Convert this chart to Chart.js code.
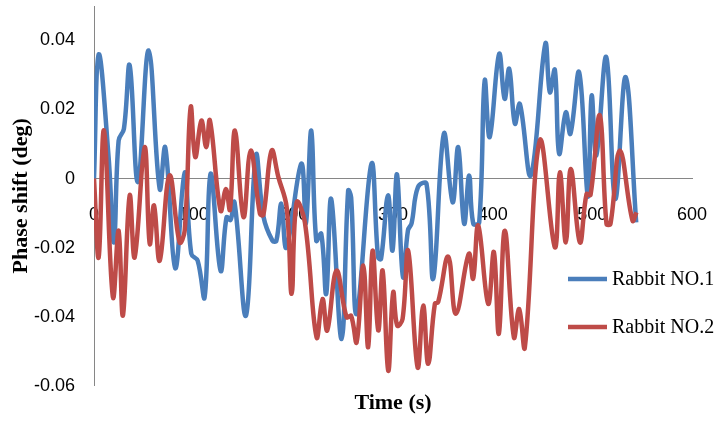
<!DOCTYPE html>
<html>
<head>
<meta charset="utf-8">
<script src="https://cdn.jsdelivr.net/npm/chart.js@4"></script>
<style>
    html, body { margin: 0; padding: 0; background: #fff; }
    #wrap { width: 719px; height: 422px; position: relative; }
</style>
</head>
<body>
<div id="wrap"><canvas id="phaseChart"></canvas></div>
<script>
// Rabbit NO.1 (time in s, phase shift in deg)
const rabbit1Time = [0, 4.7, 14.7, 20, 24.7, 30, 35.8, 44, 54.8, 65.9, 71.5, 81.5, 91, 97.6, 104, 111,
    117, 127, 133, 137, 141, 152.5, 162.5, 170, 179, 183, 188, 193, 208, 212.6, 218, 223, 228, 233, 238,
    248.4, 255, 258, 263.5, 278.4, 285, 288, 295, 299.5, 304, 310, 315, 318.6, 325, 333.6, 340.4, 351,
    359.8, 365.4, 371.4, 376.4, 380.5, 386.5, 392, 397, 406.5, 412, 416.6, 422.3, 427.3, 438.3, 452.8,
    457.4, 462.4, 466.7, 473.4, 478, 486.8, 495.5, 499.3, 504, 514, 523, 533.4, 544];
const rabbit1Shift = [0, 0.036, 0.006, -0.0185, 0.011, 0.0144, 0.0328, -0.001, 0.0371, -0.003, 0.009, -0.026,
    0.0018, -0.0218, -0.0238, -0.0344, 0.0014, -0.0267, -0.0112, -0.012, -0.0069, -0.0397, 0.0067, -0.011,
    -0.018, -0.018, -0.0073, -0.02, 0.0043, -0.013, 0.0139, -0.018, -0.016, -0.0334, -0.0059, -0.0465,
    -0.0035, -0.0055, -0.0392, 0.0043, -0.0228, -0.0233, -0.0049, -0.0209, 0.0012, -0.0285, -0.015, -0.013,
    -0.0025, -0.0015, -0.029, 0.013, -0.0069, 0.0091, -0.0131, 0.0009, -0.013, -0.0127, 0.0284, 0.012,
    0.0361, 0.0231, 0.0318, 0.0159, 0.0216, 0.0009, 0.039, 0.025, 0.0315, 0.0072, 0.0192, 0.013, 0.0308,
    -0.0052, 0.024, 0.0067, 0.0352, -0.0059, 0.0294, -0.0127];

// Rabbit NO.2
const rabbit2Time = [0, 4.7, 10, 19, 24.7, 29, 35.8, 40.8, 50.8, 55.9, 60.2, 65.9, 75.8, 85.9, 91, 97,
    101.6, 107.7, 112.6, 116.3, 127, 132.4, 136.4, 141.4, 150, 157.2, 166.5, 170, 178.2, 185, 193.3, 198.3,
    203.3, 211.6, 223.3, 229.3, 234, 243.3, 253.4, 258, 263.5, 270.2, 275.1, 279.5, 285.2, 289.6, 295.2,
    300.2, 304.2, 309.6, 315.2, 324.7, 330.3, 335.3, 342, 345.3, 355.4, 363.1, 376.1, 380.4, 385.5, 395.5,
    401.2, 406.2, 412.2, 421.3, 426.6, 432.3, 447.3, 462.4, 467.4, 473.4, 478.4, 487.5, 494.2, 498.2,
    507.5, 514.2, 518.2, 527.6, 540.3, 544.3];
const rabbit2Shift = [0, -0.0228, 0.0139, -0.0344, -0.0151, -0.0397, -0.0049, -0.0228, 0.0091, -0.0189,
    -0.0078, -0.0238, 0.0009, -0.0185, -0.0151, 0.0207, 0.0062, 0.0168, 0.0091, 0.0168, -0.0093, -0.003,
    -0.009, 0.0139, -0.0112, 0.0081, -0.0102, -0.0105, 0.0081, 0.0004, -0.0083, -0.0334, -0.0069, -0.0127,
    -0.046, -0.0349, -0.044, -0.0267, -0.0402, -0.0398, -0.0474, -0.0252, -0.0489, -0.0209, -0.044, -0.0267,
    -0.0557, -0.033, -0.0426, -0.0407, -0.0209, -0.0547, -0.0368, -0.0537, -0.0363, -0.0358, -0.0226,
    -0.0392, -0.0218, -0.029, -0.0136, -0.0363, -0.0213, -0.045, -0.0151, -0.046, -0.0378, -0.0489, 0.011,
    -0.0199, 0.0018, -0.0185, 0.0028, -0.0185, -0.0045, -0.0047, 0.0183, -0.0131, -0.0131, 0.0081, -0.0122,
    -0.0098];

const yTicks = [-0.06, -0.04, -0.02, 0, 0.02, 0.04];
const xTicks = [0, 100, 200, 300, 400, 500, 600];
const seriesNames = ['Rabbit NO.1', 'Rabbit NO.2'];
const seriesColors = ['#4a7ebb', '#be4b48'];

const toPoints = (xs, ys) => xs.map((x, i) => ({ x, y: ys[i] }));

// legend sits inside the plot on the right, like the original
const sideLegend = {
    id: 'sideLegend',
    afterDraw(chart) {
        const ctx = chart.ctx;
        ctx.save();
        ctx.font = '20px "Liberation Serif", "Times New Roman", serif';
        ctx.textBaseline = 'middle';
        seriesNames.forEach((name, i) => {
            const y = 279 + i * 48;
            ctx.strokeStyle = seriesColors[i];
            ctx.lineWidth = 4.5;
            ctx.beginPath();
            ctx.moveTo(568, y);
            ctx.lineTo(607, y);
            ctx.stroke();
            ctx.fillStyle = '#000';
            ctx.fillText(name, 612, y + 1);
        });
        ctx.restore();
    }
};

new Chart(document.getElementById('phaseChart'), {
    type: 'line',
    data: {
        datasets: [{
                label: seriesNames[0],
                data: toPoints(rabbit1Time, rabbit1Shift),
                borderColor: seriesColors[0],
                order: 1
            },
            {
                label: seriesNames[1],
                data: toPoints(rabbit2Time, rabbit2Shift),
                borderColor: seriesColors[1],
                order: 0
            }
        ]
    },
    options: {
        responsive: true,
        maintainAspectRatio: false,
        animation: false,
        layout: { padding: { left: 0, right: 27, top: 6, bottom: 1 } },
        elements: {
            line: { borderWidth: 4.5, tension: 0.4, fill: false },
            point: { radius: 0 }
        },
        plugins: {
            legend: { display: false },
            tooltip: { enabled: false },
            title: {
                display: true,
                position: 'bottom',
                fullSize: false,
                text: 'Time (s)',
                color: '#000',
                font: { family: '"Liberation Serif", "Times New Roman", serif', size: 22, weight: 'bold' },
                padding: { top: 5, bottom: 4 }
            }
        },
        scales: {
            x: {
                type: 'linear',
                position: { y: 0 },
                min: 0,
                max: 600,
                afterBuildTicks: s => { s.ticks = xTicks.map(v => ({ value: v })); },
                afterFit: s => { s.paddingLeft = 0; s.paddingRight = 0; },
                grid: { display: false, drawTicks: false },
                border: { display: true, color: '#868686', width: 1 },
                ticks: {
                    color: '#000',
                    padding: 26,
                    maxRotation: 0,
                    font: { family: '"Liberation Sans", Arial, sans-serif', size: 18 }
                }
            },
            y: {
                min: -0.06,
                max: 0.05,
                afterBuildTicks: s => { s.ticks = yTicks.map(v => ({ value: v })); },
                afterFit: s => { s.width = 94; s.paddingTop = 0; s.paddingBottom = 0; },
                grid: { display: false, drawTicks: false },
                border: { display: true, color: '#868686', width: 1 },
                ticks: {
                    color: '#000',
                    padding: 19,
                    font: { family: '"Liberation Sans", Arial, sans-serif', size: 18 },
                    callback: v => v === 0 ? '0' : v.toFixed(2)
                },
                title: {
                    display: true,
                    text: 'Phase shift (deg)',
                    color: '#000',
                    font: { family: '"Liberation Serif", "Times New Roman", serif', size: 22, weight: 'bold' },
                    padding: { top: 8, bottom: 0 }
                }
            }
        }
    },
    plugins: [sideLegend]
});
</script>
</body>
</html>
